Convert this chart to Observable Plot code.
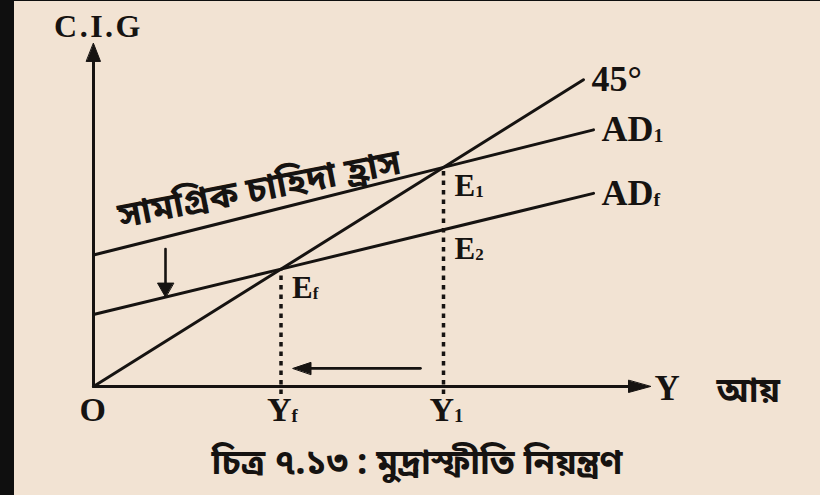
<!DOCTYPE html>
<html>
<head>
<meta charset="utf-8">
<script src="https://cdn.jsdelivr.net/npm/d3@7"></script>
<script src="https://cdn.jsdelivr.net/npm/@observablehq/plot@0.6"></script>
<style>
  html, body { margin: 0; padding: 0; background: #0f0f0f; }
  #sheet { position: absolute; left: 14px; top: 1px; width: 806px; height: 494px; background: #f2e3d3; overflow: hidden; }
  #caption { position: absolute; left: 0; top: 441px; width: 806px; height: 54px; line-height: 54px; text-align: center;
             font: bold 35px "Noto Sans Bengali", "Noto Serif Bengali", "Lohit Bengali", "FreeSerif", serif; color: #161311; }
</style>
</head>
<body>
<div id="sheet"><div id="chart"></div><div id="caption"></div></div>
<script>
// Keynesian cross: income (Y) along x, aggregate expenditure (C+I+G) along y
const ink = "#161311";
const serif = "Liberation Serif, Times New Roman, serif";
const bengali = "Noto Sans Bengali, Noto Serif Bengali, Lohit Bengali, FreeSerif, sans-serif";

const guide45 = [{inc: 0, exp: 0}, {inc: 98, exp: 98}];
const ad1 = [{inc: 0, exp: 42}, {inc: 70, exp: 70}, {inc: 100, exp: 82}];
const adf = [{inc: 0, exp: 23}, {inc: 37.5, exp: 37.5}, {inc: 100, exp: 61.7}];
const equilibria = [
  {label: "E_1", inc: 70, exp: 70},
  {label: "E_2", inc: 70, exp: 50.1},
  {label: "E_f", inc: 37.5, exp: 37.5}
];
const incomeTicks = [{label: "O", inc: 0}, {label: "Y_f", inc: 37.5}, {label: "Y_1", inc: 70}];
const curveNames = ["45°", "AD_1", "AD_f"];
const axisTitleY = "C.I.G";
const axisTitleX = ["Y", "আয়"];
const demandCut = "সামগ্রিক চাহিদা হ্রাস";
const caption = "চিত্র ৭.১৩ : মুদ্রাস্ফীতি নিয়ন্ত্রণ";

// axis reach beyond the plotted curves
const xAxisEnd = 111.4, yAxisEnd = 109.6;
// where the downward shift arrow and the income-fall arrow sit
const cutAt = 14.4, fallLevel = 5.8;

const along = (pts, x) => {
  for (let i = 1; i < pts.length; i++) {
    const a = pts[i - 1], b = pts[i];
    if (x <= b.inc) return a.exp + (b.exp - a.exp) * (x - a.inc) / (b.inc - a.inc);
  }
  return pts[pts.length - 1].exp;
};

// filled triangular arrowhead for the vector mark
const head = {
  draw(context, l, r) {
    context.moveTo(0, -l);
    context.lineTo(r, 0);
    context.lineTo(-r, 0);
    context.closePath();
  }
};

const ends = [guide45, ad1, adf].map((s, i) => ({label: curveNames[i], ...s[s.length - 1]}));
const cutTop = along(ad1, cutAt), cutBottom = along(adf, cutAt);

const lineStyle = {x: "inc", y: "exp", stroke: ink, strokeWidth: 3};
const latin = {fontFamily: serif, fontWeight: "bold", fill: ink};

const chart = Plot.plot({
  width: 806,
  height: 440,
  x: {domain: [0, 100], range: [79, 579], axis: null},
  y: {domain: [0, 100], range: [385, 72], axis: null},
  style: {background: "transparent", overflow: "visible"},
  marks: [
    // axes
    Plot.arrow([0], {x1: 0, y1: 0, x2: 0, y2: yAxisEnd, headLength: 0, insetEnd: 14, stroke: ink, strokeWidth: 3}),
    Plot.vector([0], {x: 0, y: yAxisEnd, anchor: "end", length: 18, r: 7, rotate: 0, shape: head, fill: ink, stroke: ink, strokeWidth: 1}),
    Plot.arrow([0], {x1: 0, y1: 0, x2: xAxisEnd, y2: 0, headLength: 0, insetEnd: 18, stroke: ink, strokeWidth: 3}),
    Plot.vector([0], {x: xAxisEnd, y: 0, anchor: "end", length: 22, r: 6, rotate: 90, shape: head, fill: ink, stroke: ink, strokeWidth: 1}),

    // curves
    Plot.line(guide45, lineStyle),
    Plot.line(ad1, lineStyle),
    Plot.line(adf, lineStyle),

    // equilibrium drop lines
    Plot.ruleX(equilibria.filter(d => d.label !== "E_2"), {x: "inc", y1: 0, y2: "exp", stroke: ink, strokeWidth: 3.5, strokeDasharray: "4.5,5", insetTop: 8}),

    // downward shift of aggregate demand
    Plot.arrow([0], {x1: cutAt, y1: cutTop, x2: cutAt, y2: cutBottom, headLength: 0, insetStart: 12, insetEnd: 12, stroke: ink, strokeWidth: 2.6}),
    Plot.vector([0], {x: cutAt, y: cutBottom, anchor: "end", length: 14, r: 8, rotate: 180, shape: head, fill: ink, stroke: ink, strokeWidth: 1}),

    // income falls from Y1 to Yf
    Plot.arrow([0], {x1: 70, y1: fallLevel, x2: 37.5, y2: fallLevel, headLength: 0, insetStart: 23, insetEnd: 26, stroke: ink, strokeWidth: 2.6}),
    Plot.vector([0], {x: 37.5, y: fallLevel, dx: 12, anchor: "end", length: 18, r: 6, rotate: -90, shape: head, fill: ink, stroke: ink, strokeWidth: 1}),

    // labels
    Plot.text(ends, {x: "inc", y: "exp", text: "label", textAnchor: "start", dx: 8, lineAnchor: "middle", fontSize: 36, ...latin}),
    Plot.text(equilibria, {x: "inc", y: "exp", text: "label", textAnchor: "start", dx: 11, dy: 7, lineAnchor: "top", fontSize: 31, ...latin}),
    Plot.text(incomeTicks, {x: "inc", y: () => 0, text: "label", textAnchor: "start", dx: -14, dy: 10, lineAnchor: "top", fontSize: 34, ...latin}),
    Plot.text([axisTitleY], {x: 0, y: yAxisEnd, text: d => d, textAnchor: "middle", dx: 5, dy: -6, lineAnchor: "bottom", fontSize: 32, ...latin}),
    Plot.text([axisTitleX[0]], {x: xAxisEnd, y: 0, text: d => d, textAnchor: "start", dx: 4, dy: 2, lineAnchor: "middle", fontSize: 35, ...latin}),
    Plot.text([axisTitleX[1]], {x: xAxisEnd, y: 0, text: d => d, textAnchor: "start", dx: 66, dy: 4, lineAnchor: "middle", fontSize: 35, fontFamily: bengali, fontWeight: "bold", fill: ink}),
    Plot.text([demandCut], {x: 33.2, y: along(ad1, 33.2), text: d => d, textAnchor: "middle", dy: -24, rotate: -11, lineAnchor: "middle", fontSize: 36, fontFamily: bengali, fontWeight: "bold", fill: ink})
  ]
});

// subscripts: "AD_1" -> AD with a small 1
d3.select(chart).selectAll("text").each(function () {
  const t = this.textContent;
  if (t === axisTitleY) d3.select(this).attr("letter-spacing", 2.5);
  const i = t.indexOf("_");
  if (i < 0) return;
  this.textContent = t.slice(0, i);
  d3.select(this).append("tspan").attr("font-size", "0.55em").attr("dy", "0.05em").text(t.slice(i + 1));
});

document.getElementById("chart").append(chart);
document.getElementById("caption").textContent = caption;
</script>
</body>
</html>
